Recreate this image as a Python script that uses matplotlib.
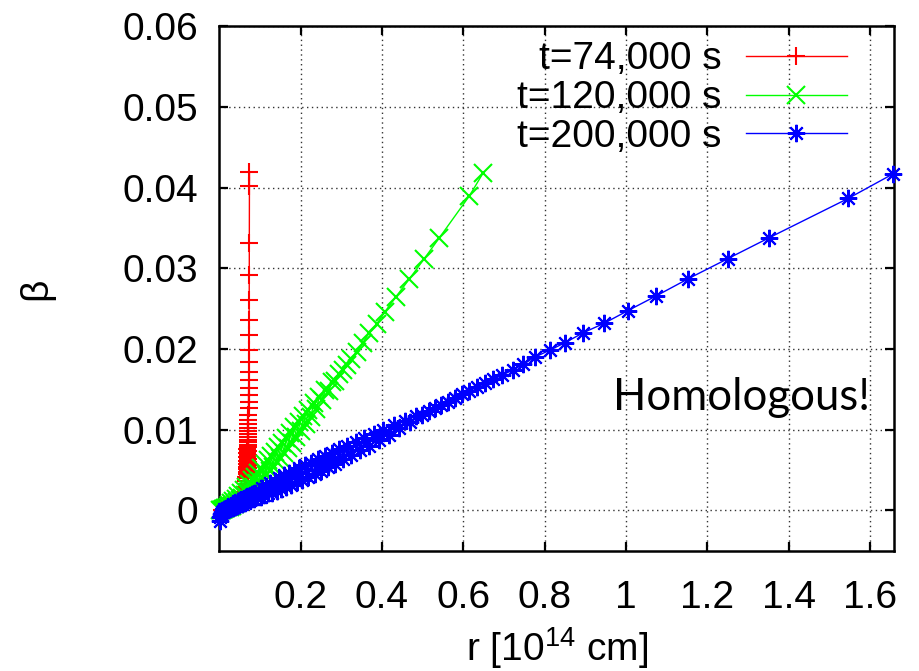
import matplotlib
matplotlib.use("Agg")
import matplotlib.pyplot as plt

plt.rcParams['font.family'] = ['Liberation Sans', 'DejaVu Sans']
plt.rcParams['mathtext.fontset'] = 'custom'
plt.rcParams['mathtext.rm'] = 'Liberation Sans'
plt.rcParams['mathtext.it'] = 'Liberation Sans:italic'
plt.rcParams['mathtext.bf'] = 'Liberation Sans:bold'

# ---------------- data (r in 1e14 cm, beta) ----------------
labels = ["t=74,000 s", "t=120,000 s", "t=200,000 s"]
colors = ["#ff0000", "#00ff00", "#0000ff"]

r_74k = [0.0060, 0.0150, 0.0250, 0.0350, 0.0470, 0.0495, 0.0590, 0.0590, 0.0650, 0.0638,
         0.0683, 0.0660,
         0.0697, 0.0668, 0.0699, 0.0670, 0.0701, 0.0672, 0.0703, 0.0674, 0.0705, 0.0676,
         0.0707, 0.0678, 0.0708, 0.0681, 0.0709, 0.0685, 0.0710, 0.0688, 0.0711, 0.0691,
         0.0712, 0.0694, 0.0714, 0.0698, 0.0715, 0.0703, 0.0716, 0.0708, 0.0716, 0.0713,
         0.0716,
         0.0718, 0.0719, 0.0720, 0.0722, 0.0723, 0.0725, 0.0727, 0.0729, 0.0731, 0.0733,
         0.0735, 0.0737, 0.0738, 0.0741, 0.0742]
b_74k = [0.00010, 0.00030, 0.00050, 0.00080, 0.00120, 0.00155, 0.00190, 0.00225, 0.00260, 0.00295,
         0.00330, 0.00365,
         0.00400, 0.00415, 0.00430, 0.00445, 0.00460, 0.00476, 0.00492, 0.00508, 0.00525, 0.00542,
         0.00560, 0.00578, 0.00597, 0.00617, 0.00638, 0.00660, 0.00683, 0.00707, 0.00732, 0.00758,
         0.00785, 0.00813, 0.00843, 0.00875, 0.00909, 0.00945, 0.00984, 0.01026, 0.01071, 0.01120,
         0.01181,
         0.01264, 0.01346, 0.01429, 0.01512, 0.01615, 0.01719, 0.01843, 0.01988, 0.02173, 0.02359,
         0.02607, 0.02917, 0.03310, 0.04020, 0.04197]

r_120k = [0.0027, 0.0050, 0.0074, 0.0099, 0.0124, 0.0150, 0.0176, 0.0203, 0.0230, 0.0258,
          0.0286, 0.0315, 0.0344, 0.0374, 0.0404, 0.0435, 0.0466, 0.0498, 0.0530, 0.0563,
          0.0596, 0.0630, 0.0664, 0.0699, 0.0734, 0.0770, 0.0806, 0.0843, 0.0880, 0.0918,
          0.0956, 0.0995, 0.1034, 0.1074, 0.1114, 0.1155, 0.1196, 0.1238, 0.1280, 0.1323,
          0.1366, 0.1410, 0.1455, 0.1500, 0.1546, 0.1593, 0.1641, 0.1690, 0.1740, 0.1791,
          0.1843, 0.1897, 0.1952, 0.2009, 0.2067, 0.2127, 0.2189, 0.2253, 0.2319, 0.2387,
          0.2458, 0.2531, 0.2607, 0.2686, 0.2768, 0.2853, 0.2942, 0.3035, 0.3133, 0.3238,
          0.3378, 0.3526, 0.3681, 0.3870, 0.4074, 0.4345, 0.4672, 0.5033, 0.5402, 0.6147,
          0.6491]
b_120k = [0.00002, 0.00004, 0.00008, 0.00012, 0.00017, 0.00024, 0.00031, 0.00039, 0.00062, 0.00040,
          0.00087, 0.00056, 0.00115, 0.00075, 0.00146, 0.00100, 0.00179, 0.00124, 0.00210, 0.00156,
          0.00249, 0.00186, 0.00284, 0.00223, 0.00322, 0.00262, 0.00372, 0.00292, 0.00413, 0.00335,
          0.00466, 0.00369, 0.00522, 0.00406, 0.00579, 0.00443, 0.00628, 0.00493, 0.00678, 0.00543,
          0.00729, 0.00595, 0.00783, 0.00651, 0.00839, 0.00709, 0.00899, 0.00770, 0.00962, 0.00835,
          0.01029, 0.00905, 0.01101, 0.00979, 0.01168, 0.01068, 0.01250, 0.01163, 0.01326, 0.01260,
          0.01407, 0.01365, 0.01495, 0.01474, 0.01588, 0.01600, 0.01689, 0.01736, 0.01801, 0.01872,
          0.01966, 0.02078, 0.02194, 0.02309, 0.02462, 0.02648, 0.02867, 0.03115, 0.03372, 0.03896,
          0.04185]

r_200k = [0.0008, 0.0025, 0.0044, 0.0063, 0.0083, 0.0104, 0.0125, 0.0147, 0.0169, 0.0192,
          0.0216, 0.0240, 0.0265, 0.0291, 0.0317, 0.0344, 0.0372, 0.0400, 0.0429, 0.0459,
          0.0490, 0.0521, 0.0553, 0.0586, 0.0620, 0.0655, 0.0691, 0.0728, 0.0766, 0.0805,
          0.0845, 0.0886, 0.0928, 0.0971, 0.1016, 0.1061, 0.1108, 0.1156, 0.1205, 0.1255,
          0.1307, 0.1360, 0.1414, 0.1470, 0.1527, 0.1586, 0.1646, 0.1708, 0.1771, 0.1836,
          0.1903, 0.1972, 0.2042, 0.2114, 0.2188, 0.2264, 0.2342, 0.2422, 0.2504, 0.2588,
          0.2675, 0.2764, 0.2855, 0.2949, 0.3045, 0.3144, 0.3246, 0.3350, 0.3457, 0.3567,
          0.3680, 0.3796, 0.3915, 0.4037, 0.4163, 0.4292, 0.4425, 0.4561, 0.4701, 0.4845,
          0.4993, 0.5145, 0.5301, 0.5461, 0.5626, 0.5795, 0.5969, 0.6147, 0.6330, 0.6533,
          0.6740, 0.6960, 0.7214, 0.7475, 0.7760, 0.8130, 0.8500, 0.8950, 0.9460, 1.0040,
          1.0738, 1.1530, 1.2500, 1.3520, 1.5470, 1.6560]
b_200k = [-0.00130, -0.00080, -0.00040, -0.00015, -0.00004, 0.00012, -0.00004, 0.00022, 0.00002, 0.00033,
          0.00010, 0.00045, 0.00019, 0.00060, 0.00031, 0.00075, 0.00042, 0.00094, 0.00051, 0.00112,
          0.00064, 0.00130, 0.00077, 0.00145, 0.00093, 0.00162, 0.00111, 0.00180, 0.00129, 0.00198,
          0.00147, 0.00218, 0.00168, 0.00238, 0.00168, 0.00279, 0.00190, 0.00301, 0.00212, 0.00344,
          0.00216, 0.00369, 0.00242, 0.00405, 0.00259, 0.00433, 0.00287, 0.00461, 0.00316, 0.00491,
          0.00347, 0.00523, 0.00380, 0.00557, 0.00415, 0.00593, 0.00452, 0.00632, 0.00492, 0.00672,
          0.00533, 0.00715, 0.00578, 0.00761, 0.00634, 0.00799, 0.00684, 0.00850, 0.00746, 0.00893,
          0.00801, 0.00949, 0.00869, 0.00999, 0.00940, 0.01052, 0.01016, 0.01110, 0.01100, 0.01166,
          0.01188, 0.01226, 0.01265, 0.01306, 0.01349, 0.01393, 0.01439, 0.01483, 0.01525, 0.01574,
          0.01624, 0.01677, 0.01739, 0.01810, 0.01900, 0.01987, 0.02078, 0.02202, 0.02318, 0.02474,
          0.02657, 0.02871, 0.03119, 0.03379, 0.03868, 0.04169]

x_ticks = [0.2, 0.4, 0.6, 0.8, 1.0, 1.2, 1.4, 1.6]
x_tick_labels = ["0.2", "0.4", "0.6", "0.8", "1", "1.2", "1.4", "1.6"]
y_ticks = [0, 0.01, 0.02, 0.03, 0.04, 0.05, 0.06]
y_tick_labels = ["0", "0.01", "0.02", "0.03", "0.04", "0.05", "0.06"]

# ---------------- figure ----------------
fig = plt.figure(figsize=(9.19, 6.71), dpi=100)
ax = fig.add_axes([219.3 / 919, 1 - 550.7 / 671, (894 - 219.3) / 919, (550.7 - 26.3) / 671])

fs = 28
series = [(r_74k, b_74k, '+'), (r_120k, b_120k, 'x'), (r_200k, b_200k, (8, 2, 0))]
for (r, b, m), lab, c in zip(series, labels, colors):
    ax.plot(r, b, color=c, lw=1.0, marker=m, ms=12.5, mew=1.5,
            label=lab, clip_on=False, zorder=3)

ax.set_xlim(0, 1.659)
ax.set_ylim(-0.005, 0.06)
ax.set_xticks(x_ticks)
ax.set_xticklabels(x_tick_labels)
ax.set_yticks(y_ticks)
ax.set_yticklabels(y_tick_labels)

ax.tick_params(axis='both', direction='in', length=6.5, width=1.6, top=True, right=True,
               labelsize=fs)
ax.tick_params(axis='x', pad=21)
ax.tick_params(axis='y', pad=15)
for s in ax.spines.values():
    s.set_linewidth(1.8)

ax.grid(True, linestyle=(0, (1, 2.5)), color='#333333', lw=1.0, zorder=0)
ax.set_axisbelow(True)

ax.set_xlabel(r"r [10$^{14}$ cm]", fontsize=fs, va='top')
ax.xaxis.set_label_coords(0.5, -0.142)
ax.set_ylabel("β", fontsize=fs)
ax.yaxis.set_label_coords(-0.245, 0.5)

ax.text(0.969, 0.01243, "Homologous!", fontsize=31.5, family=['Lato', 'DejaVu Sans'],
        ha='left', va='baseline')

leg = ax.legend(loc='upper right', bbox_to_anchor=(847 / 919, 1 - 41.5 / 671),
                bbox_transform=fig.transFigure, frameon=False, fontsize=fs,
                markerfirst=False, numpoints=1, handlelength=2.6, handletextpad=0.62,
                labelspacing=0.07, borderpad=0, borderaxespad=0)

fig.savefig("out.png", dpi=100)
